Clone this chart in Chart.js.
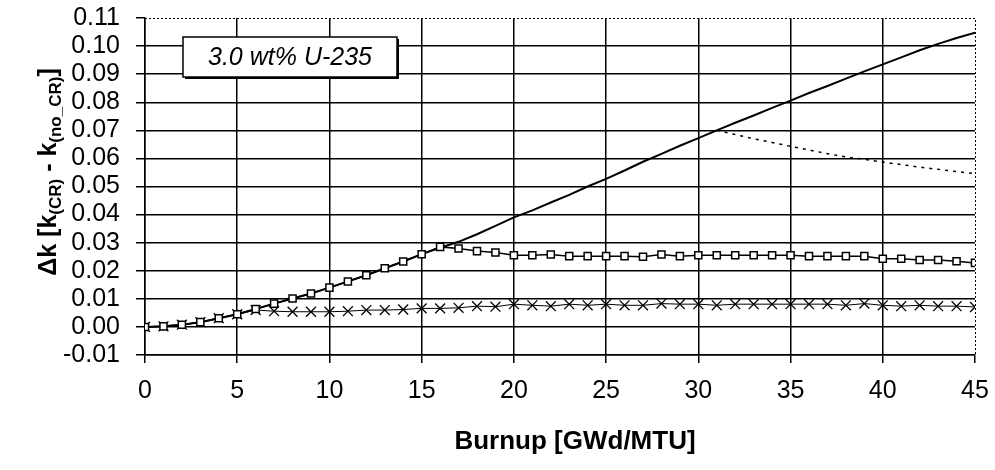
<!DOCTYPE html>
<html>
<head>
<meta charset="utf-8">
<title>Delta k vs burnup</title>
<script src="https://cdn.jsdelivr.net/npm/chart.js@4.4.1/dist/chart.umd.min.js"></script>
<style>
  html, body { margin: 0; padding: 0; background: #fff; }
  #deltaK { display: block; }
</style>
</head>
<body>
<canvas id="deltaK" width="995" height="470"></canvas>
<script>
// burnup steps [GWd/MTU]
var burnup = [0, 1, 2, 3, 4, 5, 6, 7, 8, 9, 10, 11, 12, 13, 14, 15, 16, 17, 18, 19,
              20, 21, 22, 23, 24, 25, 26, 27, 28, 29, 30, 31, 32, 33, 34, 35, 36, 37, 38, 39,
              40, 41, 42, 43, 44, 45];

// solid line, no markers
var dkSolid = [0, 0.0002, 0.0008, 0.0017, 0.0031, 0.0045, 0.0064, 0.0083, 0.0101, 0.0119,
               0.0140, 0.0162, 0.0184, 0.0209, 0.0233, 0.0259, 0.0282, 0.0303, 0.0330, 0.0360,
               0.0390, 0.0415, 0.0443, 0.0470, 0.0500, 0.0527, 0.0557, 0.0588, 0.0616, 0.0645,
               0.0672, 0.0700, 0.0727, 0.0753, 0.0780, 0.0806, 0.0833, 0.0858, 0.0884, 0.0910,
               0.0935, 0.0960, 0.0985, 0.1008, 0.1029, 0.1048];

// square markers
var dkSquare = [0, 0.0002, 0.0008, 0.0017, 0.0031, 0.0045, 0.0064, 0.0083, 0.0101, 0.0119,
                0.0140, 0.0162, 0.0184, 0.0209, 0.0233, 0.0259, 0.0285, 0.0279, 0.0270, 0.0265,
                0.0255, 0.0255, 0.0258, 0.0252, 0.0252, 0.0252, 0.0252, 0.0250, 0.0258, 0.0252,
                0.0255, 0.0255, 0.0255, 0.0255, 0.0255, 0.0255, 0.0252, 0.0252, 0.0252, 0.0252,
                0.0243, 0.0243, 0.0238, 0.0238, 0.0234, 0.0228];

// x markers
var dkCross = [0, 0.0002, 0.0008, 0.0017, 0.0031, 0.0045, 0.0060, 0.0056, 0.0054, 0.0054,
               0.0054, 0.0056, 0.0060, 0.0060, 0.0062, 0.0066, 0.0066, 0.0068, 0.0074, 0.0072,
               0.0081, 0.0077, 0.0074, 0.0081, 0.0077, 0.0081, 0.0077, 0.0077, 0.0083, 0.0081,
               0.0081, 0.0077, 0.0081, 0.0081, 0.0081, 0.0081, 0.0081, 0.0081, 0.0077, 0.0083,
               0.0077, 0.0074, 0.0077, 0.0074, 0.0074, 0.0071];

// dotted branch, starts at 31 GWd/MTU
var dottedBurnup = [31, 32, 33, 34, 35, 36, 37, 38, 39, 40, 41, 42, 43, 44, 45];
var dkDotted = [0.0700, 0.0685, 0.0670, 0.0657, 0.0643, 0.0630, 0.0617, 0.0605, 0.0597, 0.0587,
                0.0578, 0.0569, 0.0561, 0.0553, 0.0546];

var xTicks = [0, 5, 10, 15, 20, 25, 30, 35, 40, 45];
var yMin = -0.01, yMax = 0.11, yStep = 0.01;

var caseLabel = '3.0 wt% U-235';
var xTitle = 'Burnup [GWd/MTU]';
// y title pieces, sub = drawn as subscript
var yTitleParts = [
    { t: '\u0394k [k', sub: false },
    { t: '(CR)', sub: true },
    { t: ' - k', sub: false },
    { t: '(no_CR)', sub: true },
    { t: ']', sub: false }
];

var FONT = "'Liberation Sans', Arial, Helvetica, sans-serif";

function toPoints(xs, ys) {
    return xs.map(function(x, i) { return { x: x, y: ys[i] }; });
}

function isNear(a, b) { return Math.abs(a - b) < 1e-9; }

// dotted frame on top/right, caption box and axis titles
var decorations = {
    id: 'decorations',
    beforeDatasetsDraw: function(chart) {
        var ctx = chart.ctx, a = chart.chartArea;
        ctx.save();
        ctx.strokeStyle = '#000';
        ctx.lineWidth = 1;
        ctx.setLineDash([2, 2]);
        ctx.beginPath();
        ctx.moveTo(a.left, Math.round(a.top) + 0.5);
        ctx.lineTo(Math.round(a.right) + 0.5, Math.round(a.top) + 0.5);
        ctx.lineTo(Math.round(a.right) + 0.5, a.bottom);
        ctx.stroke();
        ctx.restore();
    },
    afterDraw: function(chart) {
        var ctx = chart.ctx, a = chart.chartArea;
        ctx.save();

        // caption box
        var bx = a.left + 38, by = a.top + 19, bw = 214, bh = 40;
        ctx.fillStyle = '#000';
        ctx.fillRect(bx + 2, by + 2, bw, bh);
        ctx.fillStyle = '#fff';
        ctx.fillRect(bx, by, bw, bh);
        ctx.strokeStyle = '#000';
        ctx.lineWidth = 1.5;
        ctx.strokeRect(bx, by, bw, bh);
        ctx.fillStyle = '#000';
        ctx.font = 'italic 25px ' + FONT;
        ctx.textAlign = 'center';
        ctx.textBaseline = 'middle';
        ctx.fillText(caseLabel, bx + bw / 2, by + bh / 2 + 1);

        // x title
        ctx.font = 'bold 26px ' + FONT;
        ctx.fillText(xTitle, 575, 442);

        // y title with subscripts, rotated
        var mainFont = 'bold 25px ' + FONT, subFont = 'bold 17px ' + FONT;
        var total = 0;
        yTitleParts.forEach(function(p) {
            ctx.font = p.sub ? subFont : mainFont;
            p.w = ctx.measureText(p.t).width;
            total += p.w;
        });
        ctx.translate(56, 172);
        ctx.rotate(-Math.PI / 2);
        ctx.textAlign = 'left';
        ctx.textBaseline = 'alphabetic';
        var pos = -total / 2;
        yTitleParts.forEach(function(p) {
            ctx.font = p.sub ? subFont : mainFont;
            ctx.fillText(p.t, pos, p.sub ? 5 : 0);
            pos += p.w;
        });
        ctx.restore();
    }
};

var ctx = document.getElementById('deltaK').getContext('2d');
var myChart = new Chart(ctx, {
    type: 'line',
    data: {
        datasets: [
            {
                label: 'squares',
                data: toPoints(burnup, dkSquare),
                borderColor: '#000',
                borderWidth: 1.5,
                pointStyle: 'rect',
                pointRadius: 5,
                pointBorderWidth: 1.5,
                pointBorderColor: '#000',
                pointBackgroundColor: '#fff'
            },
            {
                label: 'crosses',
                data: toPoints(burnup, dkCross),
                borderColor: '#000',
                borderWidth: 1,
                pointStyle: 'crossRot',
                pointRadius: 7,
                pointBorderWidth: 1.3,
                pointBorderColor: '#000'
            },
            {
                label: 'solid',
                data: toPoints(burnup, dkSolid),
                borderColor: '#000',
                borderWidth: 2,
                pointRadius: 0
            },
            {
                label: 'dotted',
                data: toPoints(dottedBurnup, dkDotted),
                borderColor: '#000',
                borderWidth: 1.5,
                borderDash: [3, 5],
                pointRadius: 0
            }
        ]
    },
    options: {
        responsive: false,
        animation: false,
        devicePixelRatio: 1,
        events: [],
        layout: { padding: { top: 18, right: 20, left: 0, bottom: 0 } },
        elements: { line: { tension: 0, fill: false } },
        plugins: {
            legend: { display: false },
            tooltip: { enabled: false }
        },
        scales: {
            x: {
                type: 'linear',
                min: 0,
                max: 45,
                // fixed band height, and no extra room for the end labels
                afterFit: function(scale) {
                    scale.height = 115;
                    scale.paddingLeft = 0;
                    scale.paddingRight = 0;
                },
                afterBuildTicks: function(scale) {
                    scale.ticks = xTicks.map(function(v) { return { value: v }; });
                },
                ticks: {
                    color: '#000',
                    padding: 13,
                    maxRotation: 0,
                    autoSkip: false,
                    font: { family: FONT, size: 25 }
                },
                grid: {
                    color: function(c) {
                        return c.tick && isNear(c.tick.value, 45) ? 'rgba(0,0,0,0)' : '#000';
                    },
                    tickColor: '#000',
                    lineWidth: 1.5,
                    tickLength: 8
                },
                border: { display: true, color: '#000', width: 1.5 }
            },
            y: {
                type: 'linear',
                min: yMin,
                max: yMax,
                afterFit: function(scale) {
                    scale.width = 145;
                    scale.paddingTop = 0;
                    scale.paddingBottom = 0;
                },
                ticks: {
                    stepSize: yStep,
                    color: '#000',
                    padding: 16,
                    autoSkip: false,
                    font: { family: FONT, size: 25 },
                    callback: function(v) { return v.toFixed(2); }
                },
                grid: {
                    color: function(c) {
                        return c.tick && isNear(c.tick.value, yMax) ? 'rgba(0,0,0,0)' : '#000';
                    },
                    tickColor: '#000',
                    lineWidth: 1.5,
                    tickLength: 9
                },
                border: { display: true, color: '#000', width: 1.5 }
            }
        }
    },
    plugins: [decorations]
});
</script>
</body>
</html>
